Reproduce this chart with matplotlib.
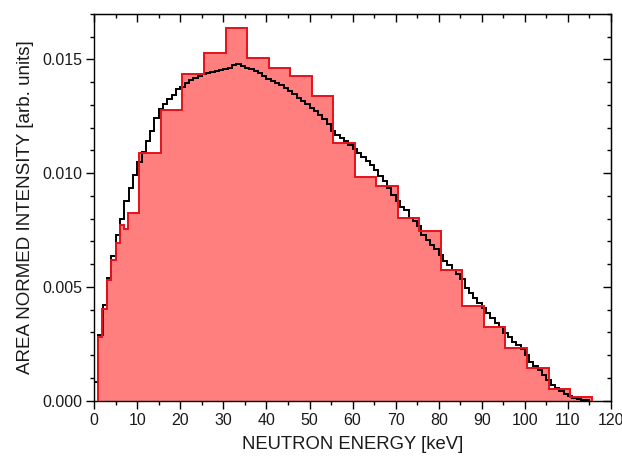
import matplotlib
matplotlib.use('Agg')
import matplotlib.pyplot as plt
import numpy as np
from matplotlib.ticker import MultipleLocator, FormatStrFormatter

# ----------------------------
# Data
# ----------------------------

# coarse (measured) histogram, red
red_edges = [0.8, 1.9, 2.9, 3.9, 5.0, 6.0, 7.0, 7.8, 10.5, 15.5, 20.5, 25.5, 30.5,
             35.5, 40.5, 45.5, 50.5, 55.5, 60.5, 65.5, 70.5, 75.5, 80.5, 85.5,
             90.5, 95.5, 100.5, 105.5, 110.5, 115.5]
red_values = [0.00278, 0.00403, 0.00532, 0.0062, 0.00693, 0.00774, 0.00756, 0.00825,
              0.0109, 0.01276, 0.01438, 0.01527, 0.0164, 0.01508, 0.01464, 0.01427,
              0.01339, 0.01134, 0.00984, 0.00946, 0.00805, 0.00744, 0.00573, 0.00417,
              0.00326, 0.00233, 0.00143, 0.00052, 0.00015]

# fine (1 keV bins) histogram, black
black_edges = list(range(0, 116))
black_values = [0.0008, 0.0029, 0.0042, 0.00539, 0.00634, 0.0073, 0.0080, 0.0088, 0.00936, 0.00994,
                0.01048, 0.01093, 0.01141, 0.01185, 0.01244, 0.01281, 0.01303, 0.01325, 0.01342, 0.01369,
                0.01381, 0.01398, 0.0141, 0.0142, 0.01427, 0.01435, 0.01439, 0.01445, 0.01449, 0.01454,
                0.0146, 0.01464, 0.01475, 0.01479, 0.01471, 0.01464, 0.01457, 0.01449, 0.01439, 0.01427,
                0.01416, 0.01405, 0.01398, 0.01386, 0.01376, 0.01361, 0.01347, 0.01332, 0.01317, 0.01303,
                0.01288, 0.01273, 0.01254, 0.01237, 0.01215, 0.01185, 0.0117, 0.01156, 0.01141, 0.01126,
                0.01107, 0.0109, 0.01072, 0.01053, 0.01034, 0.01016, 0.00987, 0.00965, 0.00936, 0.00906,
                0.00877, 0.00852, 0.0084, 0.00803, 0.00789, 0.00767, 0.0073, 0.00705, 0.00686, 0.00667,
                0.00642, 0.00612, 0.00598, 0.00576, 0.00558, 0.00535, 0.00495, 0.00473, 0.00451, 0.00429,
                0.00407, 0.00385, 0.00363, 0.00341, 0.00323, 0.00297, 0.00282, 0.0026, 0.00245, 0.00226,
                0.00201, 0.00172, 0.00153, 0.00135, 0.00113, 0.00091, 0.00069, 0.00055, 0.00043, 0.0003,
                0.00021, 0.00013, 0.00008, 0.00003, 0.00001]

plt.rcParams['font.family'] = ['Liberation Sans', 'DejaVu Sans']

# ----------------------------
# Plot
# ----------------------------
fig = plt.figure(figsize=(6.22, 4.57), dpi=100)
ax = fig.add_axes([0.1514, 0.1232, 0.8309, 0.8462])

ax.stairs(red_values, red_edges, fill=True, color='#ff7f7f', zorder=1)
ax.stairs(black_values, black_edges, color='black', linewidth=1.4, zorder=2)
ax.stairs(red_values, red_edges, color='#e3121b', linewidth=1.4, zorder=3)

ax.set_xlim(0, 120)
ax.set_ylim(0, 0.017)
ax.xaxis.set_major_locator(MultipleLocator(10))
ax.xaxis.set_minor_locator(MultipleLocator(5))
ax.yaxis.set_major_locator(MultipleLocator(0.005))
ax.yaxis.set_minor_locator(MultipleLocator(0.001))
ax.yaxis.set_major_formatter(FormatStrFormatter('%.3f'))

ax.tick_params(which='both', direction='out', top=False, right=False,
               labelsize=11.5, labelcolor='#1a1a1a', width=1, pad=2.5)
ax.tick_params(which='major', length=6)
ax.tick_params(which='minor', length=3)

# inward ticks on the top and right spines
for spine in ax.spines.values():
    spine.set_linewidth(1)
sec_x = ax.secondary_xaxis('top')
sec_x.xaxis.set_major_locator(MultipleLocator(10))
sec_x.xaxis.set_minor_locator(MultipleLocator(5))
sec_x.tick_params(which='both', direction='in', labeltop=False, width=1)
sec_x.tick_params(which='major', length=6)
sec_x.tick_params(which='minor', length=3)
sec_y = ax.secondary_yaxis('right')
sec_y.yaxis.set_major_locator(MultipleLocator(0.005))
sec_y.yaxis.set_minor_locator(MultipleLocator(0.001))
sec_y.tick_params(which='both', direction='in', labelright=False, width=1)
sec_y.tick_params(which='major', length=6)
sec_y.tick_params(which='minor', length=3)

ax.set_xlabel('NEUTRON ENERGY [keV]', fontsize=13.3, color='#1a1a1a', labelpad=6)
ax.set_ylabel('AREA NORMED INTENSITY [arb. units]', fontsize=13.5, color='#1a1a1a', labelpad=6)

fig.savefig('out.png', dpi=100)
plt.close(fig)
